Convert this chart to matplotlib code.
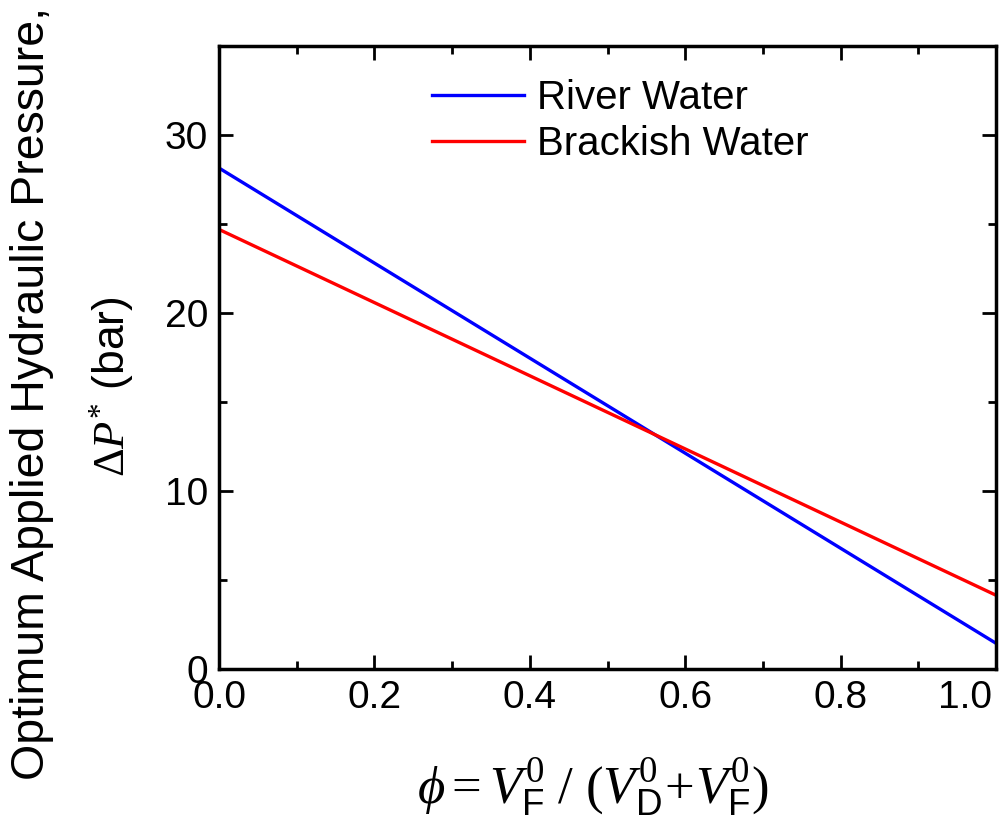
import matplotlib
import matplotlib.pyplot as plt
import matplotlib.transforms as mtransforms
from matplotlib.ticker import MultipleLocator, FormatStrFormatter
matplotlib.use('Agg')

plt.rcParams['font.family'] = ['Liberation Sans', 'DejaVu Sans']
plt.rcParams['mathtext.fontset'] = 'custom'
plt.rcParams['mathtext.rm'] = 'Liberation Serif'
plt.rcParams['mathtext.it'] = 'Liberation Serif:italic'
plt.rcParams['mathtext.sf'] = 'Liberation Sans'
plt.rcParams['mathtext.fallback'] = 'stix'

# data: end points of the two straight lines
phi = [0.0, 1.0]
river_water = [28.15, 1.45]
brackish_water = [24.7, 4.15]
series_names = ['River Water', 'Brackish Water']
series_colors = ['#0000ff', '#ff0000']

fig = plt.figure(figsize=(10, 8.23), dpi=100, facecolor='w')
ax = fig.add_axes([0.219, 0.187, 0.777, 0.757])

ax.plot(phi, river_water, linestyle='-', linewidth=2.4, color=series_colors[0], label=series_names[0])
ax.plot(phi, brackish_water, linestyle='-', linewidth=2.4, color=series_colors[1], label=series_names[1])

ax.set_xlim(0, 1.0)
ax.set_ylim(0, 35)
ax.xaxis.set_major_locator(MultipleLocator(0.2))
ax.xaxis.set_minor_locator(MultipleLocator(0.1))
ax.yaxis.set_major_locator(MultipleLocator(10))
ax.yaxis.set_minor_locator(MultipleLocator(5))
ax.xaxis.set_major_formatter(FormatStrFormatter('%.1f'))

for sp in ax.spines.values():
    sp.set_linewidth(2.5)
ax.tick_params(which='both', direction='in', top=True, right=True, width=2)
ax.tick_params(which='major', length=10, labelsize=28, pad=8)
ax.tick_params(which='minor', length=6)

# last x tick label is pulled inside the figure, as in the original
fig.canvas.draw()
for tick in ax.xaxis.get_major_ticks():
    if abs(tick.get_loc() - 1.0) < 1e-6:
        tick.label1.set_horizontalalignment('right')
        tick.label1.set_transform(tick.label1.get_transform() +
                                  mtransforms.ScaledTranslation(-4 / 100, 0, fig.dpi_scale_trans))

ax.legend(loc='upper center', bbox_to_anchor=(0.516, 1.005), frameon=False, fontsize=29,
          handlelength=2.3, handletextpad=0.3, labelspacing=0.2)

# axis labels
fig.text(0.593, 0.044, r'$\phi = V_{\mathsf{F}}^{0}\ /\ (V_{\mathsf{D}}^{0}\!+\!V_{\mathsf{F}}^{0})$',
         fontsize=38, ha='center', va='center')
fig.text(0.032, 0.522, 'Optimum Applied Hydraulic Pressure,', fontsize=33.5, rotation=90,
         ha='center', va='center')
fig.text(0.112, 0.53, r'$\Delta P^{*}$ (bar)', fontsize=32, rotation=90,
         ha='center', va='center')

fig.savefig('out.png', dpi=100)
plt.close(fig)
